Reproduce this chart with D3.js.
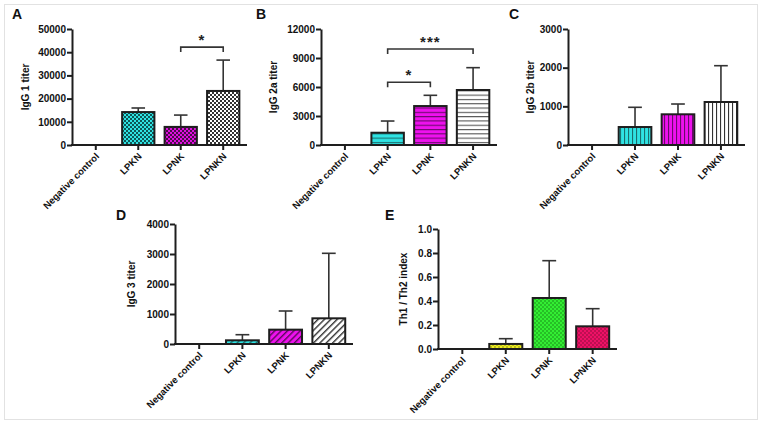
<!DOCTYPE html>
<html><head><meta charset="utf-8">
<script src="https://cdn.jsdelivr.net/npm/d3@7"></script>
<style>
body{margin:0;background:#fff;}
svg{display:block;font-family:"Liberation Sans",Arial,sans-serif;}
</style></head>
<body><svg id="chart" width="762" height="425"></svg>
<script>
// ---------- data ----------
const categories = ["Negative control", "LPKN", "LPNK", "LPNKN"];

const igg1Mean = [0, 14200, 7800, 23300];
const igg1SD   = [0, 1750, 5100, 13300];
const igg1Ticks = [0, 10000, 20000, 30000, 40000, 50000];
const igg1Sig = [{from: "LPNK", to: "LPNKN", y: 42200, label: "*"}];

const igg2aMean = [0, 1270, 4030, 5690];
const igg2aSD   = [0, 1210, 1110, 2310];
const igg2aTicks = [0, 3000, 6000, 9000, 12000];
const igg2aSig = [
  {from: "LPKN", to: "LPNK", y: 6490, label: "*"},
  {from: "LPKN", to: "LPNKN", y: 9930, label: "***"}
];

const igg2bMean = [0, 465, 794, 1112];
const igg2bSD   = [0, 510, 266, 939];
const igg2bTicks = [0, 1000, 2000, 3000];

const igg3Mean = [0, 123, 478, 856];
const igg3SD   = [0, 187, 622, 2167];
const igg3Ticks = [0, 1000, 2000, 3000, 4000];

const thMean = [0, 0.042, 0.425, 0.189];
const thSD   = [0, 0.044, 0.311, 0.147];
const thTicks = [0, 0.2, 0.4, 0.6, 0.8, 1.0];

const panelLetters = ["A", "B", "C", "D", "E"];
const yTitles = ["IgG 1 titer", "IgG 2a titer", "IgG 2b titer", "IgG 3 titer", "Th1 / Th2 index"];

// ---------- layout / style ----------
const panels = [
  {letter: panelLetters[0], title: yTitles[0], mean: igg1Mean, sd: igg1SD, ticks: igg1Ticks, sig: igg1Sig, fmt: d3.format("d"),
   x0: 72, x1: 247, yTop: 29, yZero: 145, letterX: 12, letterY: 19, titleX: 29,
   pattern: "check", fills: [null, "#2fe3e3", "#dd11dd", "#ffffff"], inks: [null, "#0d5757", "#4a0a4a", "#333333"]},
  {letter: panelLetters[1], title: yTitles[1], mean: igg2aMean, sd: igg2aSD, ticks: igg2aTicks, sig: igg2aSig, fmt: d3.format("d"),
   x0: 321, x1: 497, yTop: 29, yZero: 145, letterX: 256, letterY: 19, titleX: 277,
   pattern: "hline", fills: [null, "#2fe3e3", "#ee11ee", "#ffffff"], inks: [null, "#1a6e6e", "#6a0a6a", "#555555"]},
  {letter: panelLetters[2], title: yTitles[2], mean: igg2bMean, sd: igg2bSD, ticks: igg2bTicks, sig: [], fmt: d3.format("d"),
   x0: 568, x1: 745, yTop: 29, yZero: 145, letterX: 509, letterY: 19, titleX: 534,
   pattern: "vline", fills: [null, "#2fe3e3", "#ee11ee", "#ffffff"], inks: [null, "#1a6e6e", "#6a0a6a", "#333333"]},
  {letter: panelLetters[3], title: yTitles[3], mean: igg3Mean, sd: igg3SD, ticks: igg3Ticks, sig: [], fmt: d3.format("d"),
   x0: 175, x1: 353, yTop: 224, yZero: 344, letterX: 116, letterY: 220, titleX: 135,
   pattern: "diag", fills: [null, "#2fe3e3", "#ee11ee", "#ffffff"], inks: [null, "#1a6e6e", "#5a0a5a", "#333333"]},
  {letter: panelLetters[4], title: yTitles[4], mean: thMean, sd: thSD, ticks: thTicks, sig: [], fmt: d3.format(".1f"),
   x0: 438, x1: 617, yTop: 229, yZero: 349, letterX: 385, letterY: 220, titleX: 407,
   pattern: "dot", fills: [null, "#eeee22", "#33ee33", "#ee1166"], inks: [null, "#7a7a10", "#127a12", "#7a0a33"]}
];

const svg = d3.select("#chart");
svg.append("rect").attr("x", 4.5).attr("y", 4.5).attr("width", 753).attr("height", 415)
  .attr("fill", "#fff").attr("stroke", "#e2e2e2").attr("stroke-width", 1);

const defs = svg.append("defs");
function makePattern(id, type, fill, ink) {
  let p;
  if (type === "check") {
    p = defs.append("pattern").attr("id", id).attr("patternUnits", "userSpaceOnUse").attr("width", 4).attr("height", 4);
    p.append("rect").attr("width", 4).attr("height", 4).attr("fill", fill);
    p.append("rect").attr("width", 2).attr("height", 2).attr("fill", ink);
    p.append("rect").attr("x", 2).attr("y", 2).attr("width", 2).attr("height", 2).attr("fill", ink);
  } else if (type === "hline") {
    p = defs.append("pattern").attr("id", id).attr("patternUnits", "userSpaceOnUse").attr("width", 4).attr("height", 4.3);
    p.append("rect").attr("width", 4).attr("height", 4.3).attr("fill", fill);
    p.append("rect").attr("y", 0).attr("width", 4).attr("height", 1.1).attr("fill", ink);
  } else if (type === "vline") {
    p = defs.append("pattern").attr("id", id).attr("patternUnits", "userSpaceOnUse").attr("width", 4).attr("height", 4);
    p.append("rect").attr("width", 4).attr("height", 4).attr("fill", fill);
    p.append("rect").attr("x", 0).attr("width", 1.1).attr("height", 4).attr("fill", ink);
  } else if (type === "diag") {
    p = defs.append("pattern").attr("id", id).attr("patternUnits", "userSpaceOnUse").attr("width", 4.5).attr("height", 4.5)
      .attr("patternTransform", "rotate(45)");
    p.append("rect").attr("width", 4.5).attr("height", 4.5).attr("fill", fill);
    p.append("rect").attr("width", 1.4).attr("height", 4.5).attr("fill", ink);
  } else {
    p = defs.append("pattern").attr("id", id).attr("patternUnits", "userSpaceOnUse").attr("width", 4).attr("height", 4);
    p.append("rect").attr("width", 4).attr("height", 4).attr("fill", fill);
    p.append("circle").attr("cx", 1).attr("cy", 1).attr("r", 0.75).attr("fill", ink);
    p.append("circle").attr("cx", 3).attr("cy", 3).attr("r", 0.75).attr("fill", ink);
  }
}

const ink = "#1e1e1e";

panels.forEach((pn, pi) => {
  const g = svg.append("g");
  const x = d3.scaleBand().domain(categories).range([pn.x0, pn.x1]).paddingInner(0.24).paddingOuter(0.18);
  const yMax = pn.ticks[pn.ticks.length - 1];
  const y = d3.scaleLinear().domain([0, yMax]).range([pn.yZero, pn.yTop]);

  categories.forEach((c, i) => { if (pn.fills[i]) makePattern(`p${pi}_${i}`, pn.pattern, pn.fills[i], pn.inks[i]); });

  const rows = categories.map((c, i) => ({c, i, m: pn.mean[i], sd: pn.sd[i]}));

  // error bars (upper only)
  const eb = g.append("g").selectAll("g").data(rows.filter(d => d.sd > 0)).join("g");
  const capW = x.bandwidth() * 0.42;
  eb.append("line").attr("x1", d => x(d.c) + x.bandwidth() / 2).attr("x2", d => x(d.c) + x.bandwidth() / 2)
    .attr("y1", d => y(d.m)).attr("y2", d => y(d.m + d.sd)).attr("stroke", "#333").attr("stroke-width", 1.6);
  eb.append("line").attr("x1", d => x(d.c) + x.bandwidth() / 2 - capW / 2).attr("x2", d => x(d.c) + x.bandwidth() / 2 + capW / 2)
    .attr("y1", d => y(d.m + d.sd)).attr("y2", d => y(d.m + d.sd)).attr("stroke", "#333").attr("stroke-width", 1.6);

  // bars
  g.append("g").selectAll("rect").data(rows.filter(d => d.m > 0)).join("rect")
    .attr("x", d => x(d.c)).attr("width", x.bandwidth())
    .attr("y", d => y(d.m)).attr("height", d => y(0) - y(d.m))
    .attr("fill", d => `url(#p${pi}_${d.i})`).attr("stroke", ink).attr("stroke-width", 2);

  // y axis
  const ya = g.append("g").attr("transform", `translate(${pn.x0},0)`)
    .call(d3.axisLeft(y).tickValues(pn.ticks).tickFormat(pn.fmt).tickSize(5).tickSizeOuter(0));
  ya.select(".domain").attr("stroke", ink).attr("stroke-width", 2);
  ya.selectAll(".tick line").attr("stroke", ink).attr("stroke-width", 2);
  ya.selectAll(".tick text").attr("font-size", 10).attr("font-weight", "bold").attr("fill", "#111")
    .attr("font-family", "Liberation Sans, Arial, sans-serif").attr("x", -6);

  // x axis
  const xa = g.append("g").attr("transform", `translate(0,${pn.yZero})`)
    .call(d3.axisBottom(x).tickSize(5).tickSizeOuter(0));
  xa.select(".domain").attr("stroke", ink).attr("stroke-width", 2).attr("d", `M${pn.x0 - 1},0H${pn.x1}`);
  xa.selectAll(".tick line").attr("stroke", ink).attr("stroke-width", 2);
  xa.selectAll(".tick text").attr("font-size", 9.5).attr("font-weight", "bold").attr("fill", "#111")
    .attr("font-family", "Liberation Sans, Arial, sans-serif")
    .attr("text-anchor", "end").attr("y", 0).attr("dy", 0)
    .attr("transform", "translate(4,12) rotate(-45)");

  // y title
  g.append("text").attr("transform", `translate(${pn.titleX},${(pn.yTop + pn.yZero) / 2}) rotate(-90)`)
    .attr("text-anchor", "middle").attr("font-size", 10).attr("font-weight", "bold").attr("fill", "#111")
    .text(pn.title);

  // panel letter
  g.append("text").attr("x", pn.letterX).attr("y", pn.letterY).attr("font-size", 14).attr("font-weight", "bold")
    .attr("fill", "#111").text(pn.letter);

  // significance brackets
  pn.sig.forEach(s => {
    const xa1 = x(s.from) + x.bandwidth() / 2, xb1 = x(s.to) + x.bandwidth() / 2, yy = y(s.y);
    g.append("path").attr("d", `M${xa1},${yy + 5}V${yy}H${xb1}V${yy + 5}`)
      .attr("fill", "none").attr("stroke", "#333").attr("stroke-width", 1.6);
    g.append("text").attr("x", (xa1 + xb1) / 2).attr("y", yy - 2).attr("text-anchor", "middle")
      .attr("font-size", 15).attr("font-weight", "bold").attr("fill", "#222").attr("letter-spacing", 1).text(s.label);
  });
});
</script></body></html>
